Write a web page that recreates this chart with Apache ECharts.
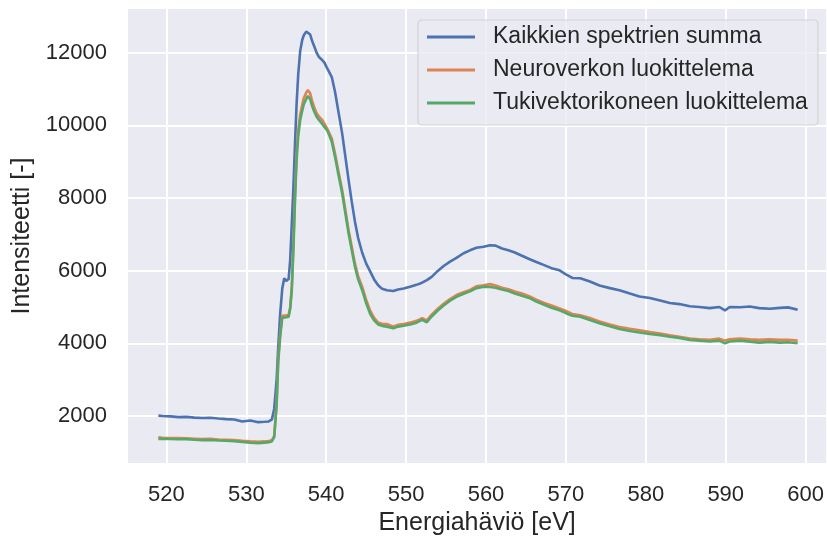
<!DOCTYPE html>
<html>
<head>
<meta charset="utf-8">
<script src="https://cdn.jsdelivr.net/npm/echarts@6/dist/echarts.min.js"></script>
<style>
  html, body { margin: 0; padding: 0; background: #ffffff; }
  #chart { width: 827px; height: 543px; }
</style>
</head>
<body>
<div id="chart"></div>
<script>
// Energy-loss axis (eV)
const energy = [
  519, 519.5, 520.5, 521.5, 522.5, 523.5, 524.5, 525.5, 526.5, 527.5, 528.5, 529.5, 530.5, 531.5,
  532.3, 532.8, 533.2, 533.5, 533.8, 534.0, 534.25, 534.5, 534.75, 535.0, 535.3, 535.5, 535.7, 535.9,
  536.1, 536.3, 536.5, 536.75, 537.0, 537.2, 537.5, 537.7, 538.0, 538.2, 538.5, 538.8, 539.1, 539.5,
  539.8, 540.1, 540.4, 540.7, 541.1, 541.5, 542.0, 542.4, 542.8, 543.2, 543.6, 544.0, 544.5, 545.0,
  545.5, 546.0, 546.5, 547.0, 547.6, 548.4, 549.0, 549.7, 550.5, 551.3, 552.0, 552.6, 553.2, 554.0,
  554.7, 555.5, 556.3, 557.2, 558.0, 558.8, 559.7, 560.5, 561.2, 562.0, 562.8, 563.6, 564.5, 565.4,
  566.3, 567.2, 568.2, 569.2, 570.0, 570.8, 571.8, 573.0, 574.2, 575.5, 576.7, 578.0, 579.2, 580.5,
  581.8, 583.0, 584.2, 585.5, 586.7, 588.0, 589.2, 589.9, 590.5, 591.8, 593.0, 594.2, 595.5, 596.8,
  597.8, 599.0
];

// Sum of all spectra
const sumAll = [
  2010, 2000, 1990, 1970, 1975, 1955, 1945, 1950, 1930, 1915, 1905, 1850, 1875, 1830,
  1840, 1850, 1900, 2200, 3000, 3900, 4830, 5500, 5790, 5720, 5770, 6300, 7300, 8300,
  9500, 10600, 11400, 12050, 12350, 12480, 12580, 12630, 12500, 12350, 12180, 12000, 11880, 11800,
  11720, 11580, 11460, 11330, 10930, 10420, 9780, 9140, 8500, 7900, 7350, 6900, 6500, 6200,
  5980, 5760, 5600, 5500, 5460, 5440, 5480, 5510, 5560, 5610, 5670, 5740, 5830, 6000,
  6130, 6250, 6350, 6480, 6560, 6630, 6660, 6700, 6690, 6610, 6560, 6500, 6410, 6320,
  6240, 6160, 6070, 6010, 5900, 5800, 5790, 5700, 5590, 5520, 5460, 5370, 5290, 5250,
  5180, 5110, 5080, 5020, 5000, 4970, 5000, 4905, 5000, 4995, 5015, 4970, 4950, 4975,
  4990, 4925
];

// Spectra classified by the neural network
const neuralNet = [
  1416, 1400, 1395, 1390, 1385, 1375, 1365, 1370, 1350, 1345, 1335, 1315, 1300, 1290,
  1300, 1310, 1330, 1450, 2400, 3600, 4280, 4760, 4790, 4770, 4780, 5000, 5560, 6750,
  8130, 9230, 9870, 10300, 10560, 10750, 10900, 10970, 10880, 10700, 10500, 10330, 10240, 10150,
  10040, 9920, 9780, 9640, 9230, 8770, 8220, 7670, 7120, 6660, 6200, 5850, 5560, 5200,
  4900, 4700, 4570, 4540, 4530, 4460, 4510, 4530, 4570, 4620, 4690, 4630, 4790, 4960,
  5090, 5220, 5330, 5410, 5470, 5570, 5600, 5630, 5590, 5530, 5490, 5430, 5370, 5300,
  5200, 5120, 5040, 4960, 4890, 4810, 4770, 4700, 4600, 4520, 4450, 4400, 4360, 4310,
  4270, 4220, 4180, 4135, 4110, 4095, 4130, 4075, 4110, 4135, 4110, 4095, 4110, 4095,
  4100, 4075
];

// Spectra classified by the support vector machine
const svm = [
  1370, 1375, 1365, 1360, 1362, 1345, 1335, 1340, 1325, 1318, 1305, 1288, 1265, 1252,
  1268, 1280, 1300, 1420, 2300, 3500, 4200, 4700, 4740, 4720, 4735, 4950, 5480, 6600,
  7950, 9050, 9700, 10150, 10400, 10580, 10720, 10810, 10720, 10560, 10380, 10240, 10150, 10040,
  9950, 9870, 9720, 9550, 9140, 8680, 8130, 7580, 7030, 6570, 6110, 5760, 5470, 5110,
  4810, 4630, 4520, 4480, 4460, 4415, 4460, 4485, 4520, 4570, 4645, 4580, 4740, 4910,
  5040, 5175, 5280, 5365, 5430, 5520, 5560, 5550, 5530, 5480, 5440, 5370, 5310, 5250,
  5150, 5070, 4980, 4910, 4830, 4760, 4730, 4640, 4550, 4470, 4395, 4340, 4300, 4255,
  4225, 4180, 4150, 4095, 4075, 4050, 4075, 4000, 4050, 4075, 4048, 4020, 4040, 4020,
  4030, 4000
];

const seriesNames = ['Kaikkien spektrien summa', 'Neuroverkon luokittelema', 'Tukivektorikoneen luokittelema'];
const seriesColors = ['#4C72B0', '#DD8452', '#55A868'];
const xTicks = [520, 530, 540, 550, 560, 570, 580, 590, 600];
const yTicks = [2000, 4000, 6000, 8000, 10000, 12000];

const FONT = "'Liberation Sans', Arial, sans-serif";
const TEXT = '#262626';

const pairs = (ys) => energy.map((x, i) => [x, ys[i]]);
const values = [sumAll, neuralNet, svm];

const chart = echarts.init(document.getElementById('chart'), null, { renderer: 'canvas' });

chart.setOption({
  animation: false,
  backgroundColor: '#ffffff',
  textStyle: { fontFamily: FONT, color: TEXT },
  grid: {
    left: 128, top: 9, right: 0, bottom: 80,
    show: true, backgroundColor: '#EAEAF2', borderWidth: 0,
    containLabel: false
  },
  xAxis: {
    type: 'value',
    min: 515.2, max: 602.575,
    name: 'Energiahäviö [eV]',
    nameLocation: 'middle',
    nameGap: 34,
    nameTextStyle: { fontSize: 25, color: TEXT, fontFamily: FONT },
    axisLine: { show: false },
    axisTick: { show: false, customValues: xTicks },
    axisLabel: { customValues: xTicks, fontSize: 22, color: TEXT, margin: 21, fontFamily: FONT,
      formatter: v => String(v) },
    splitLine: { show: true, lineStyle: { color: '#ffffff', width: 2 } }
  },
  yAxis: {
    type: 'value',
    min: 706, max: 13203,
    name: 'Intensiteetti [-]',
    nameLocation: 'middle',
    nameGap: 86,
    nameTextStyle: { fontSize: 25, color: TEXT, fontFamily: FONT },
    axisLine: { show: false },
    axisTick: { show: false, customValues: yTicks },
    axisLabel: { customValues: yTicks, fontSize: 22, color: TEXT, margin: 21, fontFamily: FONT,
      formatter: v => String(v) },
    splitLine: { show: true, lineStyle: { color: '#ffffff', width: 2 } }
  },
  legend: {
    orient: 'vertical',
    left: 418, top: 20,
    data: seriesNames.map(n => ({ name: n, icon: 'rect' })),
    itemWidth: 48, itemHeight: 3, itemGap: 7,
    padding: [4, 10, 9, 9],
    backgroundColor: 'rgba(234,234,242,0.8)',
    borderColor: 'rgba(204,204,204,0.8)',
    borderWidth: 1.2,
    borderRadius: 4,
    textStyle: { fontSize: 23, color: TEXT, fontFamily: FONT, lineHeight: 26, padding: [0, 0, 0, 13] }
  },
  series: seriesNames.map((name, i) => ({
    name,
    type: 'line',
    data: pairs(values[i]),
    showSymbol: false,
    symbol: 'none',
    color: seriesColors[i],
    lineStyle: { width: 2.6, color: seriesColors[i] },
    emphasis: { disabled: true },
    z: 2 + i
  }))
});
</script>
</body>
</html>
